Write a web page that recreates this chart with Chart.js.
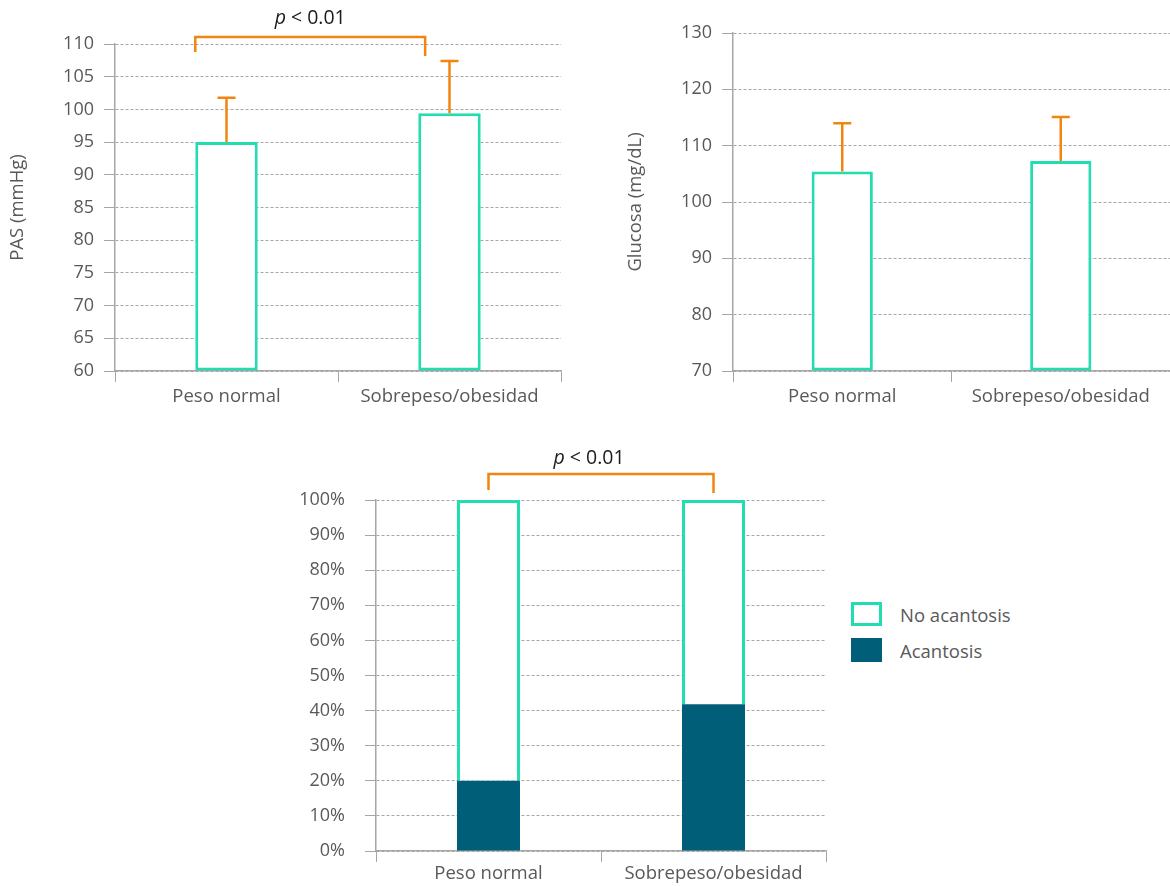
<!DOCTYPE html>
<html>
<head>
<meta charset="utf-8">
<script src="https://cdn.jsdelivr.net/npm/chart.js@4.4.1/dist/chart.umd.min.js"></script>
<style>
  body { margin: 0; background: #fff; }
  #page { position: relative; width: 1170px; height: 886px; overflow: hidden; font-family: "Open Sans", sans-serif; }
  canvas { position: absolute; display: block; }
  #legend { position: absolute; left: 851px; top: 596px; color: #595959; font-size: 18.5px; }
  #legend .item { display: flex; align-items: center; height: 36px; }
  #legend .swatch { width: 31px; height: 24px; box-sizing: border-box; margin-right: 18px; }
</style>
</head>
<body>
<div id="page">
  <canvas id="pas" width="585" height="420" style="left:0;top:0"></canvas>
  <canvas id="glucosa" width="585" height="420" style="left:585px;top:0"></canvas>
  <canvas id="acantosis" width="560" height="456" style="left:290px;top:430px"></canvas>
  <div id="legend"></div>
</div>
<script>
const groups = ["Peso normal", "Sobrepeso/obesidad"];

// PAS (mmHg), mean and SD
const pasMean = [95, 99.4];
const pasSD = [6.8, 8.0];
const pasRange = [60, 110, 5];

// Glucosa (mg/dL), mean and SD
const glucosaMean = [105.4, 107.3];
const glucosaSD = [8.6, 7.8];
const glucosaRange = [70, 130, 10];

// acantosis, % of each group
const acantosisPct = [20, 41.8];
const noAcantosisPct = [80, 58.2];

const TEAL = "#22DDB0";
const DARK = "#005E79";
const ORANGE = "#F0860F";
const GRID = "#A6A6A6";
const TEXT = "#595959";
const FONT = "'Open Sans', sans-serif";

Chart.defaults.font.family = FONT;
Chart.defaults.font.size = 18;
Chart.defaults.color = TEXT;

// SD whiskers above each bar
const errorBars = {
  id: "errorBars",
  afterDatasetsDraw(chart, args, opts) {
    if (!opts.sd) return;
    const ctx = chart.ctx;
    const y = chart.scales.y;
    const values = chart.data.datasets[0].data;
    ctx.save();
    ctx.strokeStyle = ORANGE;
    ctx.lineWidth = 2.5;
    chart.getDatasetMeta(0).data.forEach((bar, i) => {
      const top = y.getPixelForValue(values[i] + opts.sd[i]);
      ctx.beginPath();
      ctx.moveTo(bar.x, bar.y);
      ctx.lineTo(bar.x, top);
      ctx.moveTo(bar.x - 9, top);
      ctx.lineTo(bar.x + 9, top);
      ctx.stroke();
    });
    ctx.restore();
  }
};

// "p < 0.01" bracket above the plot
const sigBracket = {
  id: "sigBracket",
  afterDraw(chart, args, opts) {
    if (!opts.text) return;
    const ctx = chart.ctx;
    const bars = chart.getDatasetMeta(0).data;
    const x1 = bars[0].x + opts.dx[0] * bars[0].width;
    const x2 = bars[1].x + opts.dx[1] * bars[1].width;
    const top = chart.chartArea.top - opts.lift;
    ctx.save();
    ctx.strokeStyle = ORANGE;
    ctx.lineWidth = 2.5;
    ctx.beginPath();
    ctx.moveTo(x1, top + opts.legs[0]);
    ctx.lineTo(x1, top);
    ctx.lineTo(x2, top);
    ctx.lineTo(x2, top + opts.legs[1]);
    ctx.stroke();

    const rest = " < 0.01";
    const size = "19.5px ";
    ctx.fillStyle = "#1a1a1a";
    ctx.textBaseline = "middle";
    ctx.font = "italic " + size + FONT;
    const wp = ctx.measureText("p").width;
    ctx.font = size + FONT;
    const wr = ctx.measureText(rest).width;
    const start = (x1 + x2) / 2 - (wp + wr) / 2 + (opts.shift || 0);
    const ty = top - opts.gap;
    ctx.font = "italic " + size + FONT;
    ctx.fillText("p", start, ty);
    ctx.font = size + FONT;
    ctx.fillText(rest, start + wp, ty);
    ctx.restore();
  }
};

function yAxis(range, width, titleText, titlePad, tickPad, fmt) {
  return {
    min: range[0], max: range[1],
    ticks: { stepSize: range[2], padding: tickPad, callback: fmt || (v => v), font: { size: 18 } },
    grid: { color: GRID, tickLength: 11, lineWidth: 1 },
    border: { color: GRID, width: 1.5, dash: [3, 2] },
    title: titleText ? { display: true, text: titleText, color: TEXT, font: { size: 18.5 }, padding: { top: titlePad } } : { display: false },
    afterFit: s => { s.width = width; }
  };
}

function xAxis(height, stacked, pad) {
  return {
    stacked: !!stacked,
    grid: { drawOnChartArea: false, offset: true, tickLength: 11, color: GRID },
    border: { color: GRID, width: 1.5, z: -1 },
    ticks: { padding: pad, color: TEXT, font: { size: 18.5 } },
    afterFit: s => { s.height = height; }
  };
}

function meanChart(id, mean, sd, range, title, pad, yWidth, titlePad, bracket) {
  return new Chart(document.getElementById(id), {
    type: "bar",
    data: {
      labels: groups,
      datasets: [{
        data: mean,
        base: range[0], // bars start at the axis minimum, not at 0
        backgroundColor: "#fff",
        borderColor: TEAL,
        borderWidth: 3,
        borderSkipped: false,
        barPercentage: 0.28,
        categoryPercentage: 1
      }]
    },
    options: {
      responsive: false,
      animation: false,
      layout: { padding: pad },
      plugins: {
        legend: { display: false },
        tooltip: { enabled: false },
        errorBars: { sd: sd },
        sigBracket: bracket || {}
      },
      scales: {
        x: xAxis(49, false, 4),
        y: yAxis(range, yWidth, title, titlePad, 10)
      }
    },
    plugins: [errorBars, sigBracket]
  });
}

meanChart("pas", pasMean, pasSD, pasRange, "PAS (mmHg)",
  { top: 44, right: 24, left: 0, bottom: 0 }, 115, 7,
  { text: "p", dx: [-0.5, -0.39], lift: 7, legs: [15, 19], gap: 19 });

meanChart("glucosa", glucosaMean, glucosaSD, glucosaRange, "Glucosa (mg/dL)",
  { top: 33, right: 0, left: 0, bottom: 0 }, 148, 40);

const stackChart = new Chart(document.getElementById("acantosis"), {
  type: "bar",
  data: {
    labels: groups,
    datasets: [
      {
        label: "Acantosis",
        data: acantosisPct,
        backgroundColor: DARK,
        borderWidth: 0,
        barPercentage: 0.28,
        categoryPercentage: 1
      },
      {
        label: "No acantosis",
        data: noAcantosisPct,
        backgroundColor: "#fff",
        borderColor: TEAL,
        borderWidth: 3,
        borderSkipped: "bottom",
        barPercentage: 0.28,
        categoryPercentage: 1
      }
    ]
  },
  options: {
    responsive: false,
    animation: false,
    layout: { padding: { top: 70, right: 24, left: 0, bottom: 0 } },
    plugins: {
      legend: { display: false },
      tooltip: { enabled: false },
      sigBracket: { text: "p", dx: [0, 0], lift: 26, legs: [16, 19], gap: 16, shift: -12 }
    },
    scales: {
      x: xAxis(35, true, 1),
      y: Object.assign(yAxis([0, 100, 10], 86, null, 0, 20, v => v + "%"), { stacked: true })
    }
  },
  plugins: [sigBracket]
});

// legend, top series first
const legend = document.getElementById("legend");
stackChart.data.datasets.slice().reverse().forEach(ds => {
  const item = document.createElement("div");
  item.className = "item";
  const sw = document.createElement("div");
  sw.className = "swatch";
  sw.style.background = ds.backgroundColor;
  if (ds.borderWidth) sw.style.border = "3px solid " + ds.borderColor;
  const label = document.createElement("span");
  label.textContent = ds.label;
  item.appendChild(sw);
  item.appendChild(label);
  legend.appendChild(item);
});
</script>
</body>
</html>
